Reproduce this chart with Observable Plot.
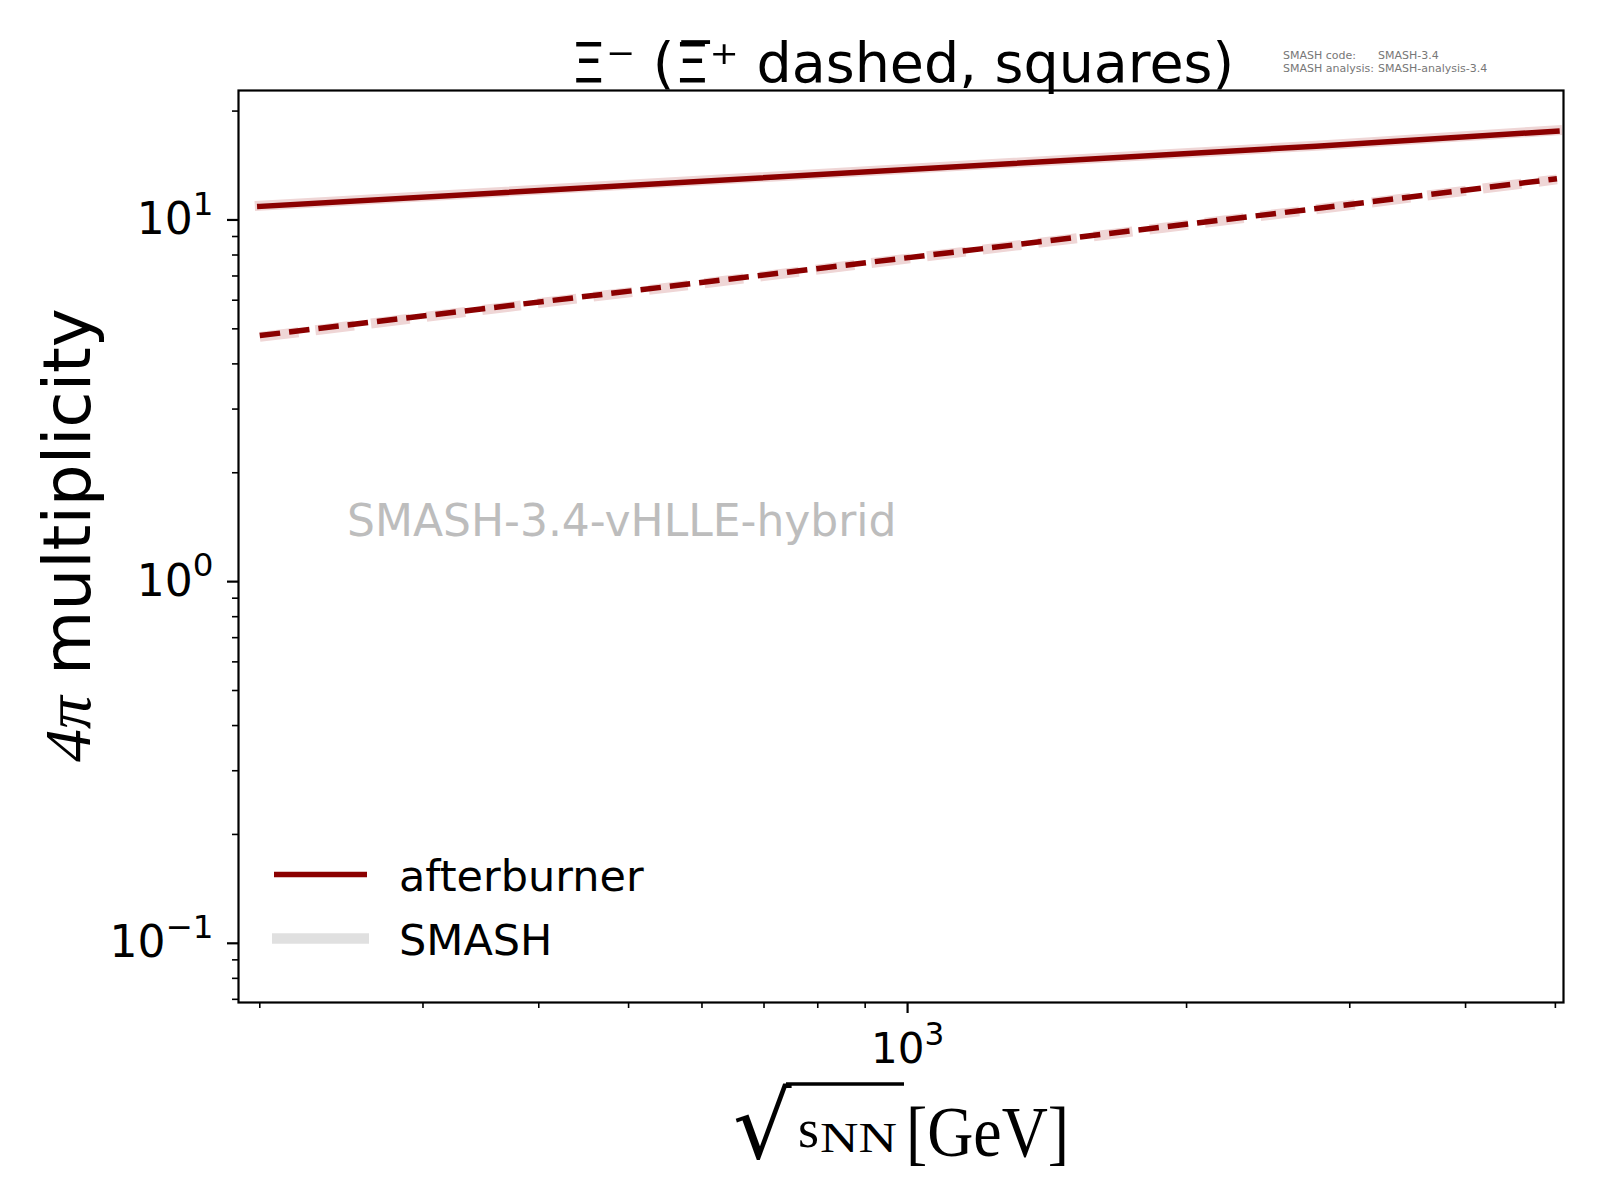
<!DOCTYPE html>
<html>
<head>
<meta charset="utf-8">
<script src="https://cdn.jsdelivr.net/npm/d3@7"></script>
<script src="https://cdn.jsdelivr.net/npm/@observablehq/plot@0.6"></script>
<style>
  html, body { margin: 0; padding: 0; background: #fff; }
  #chart svg { display: block; }
</style>
</head>
<body>
<div id="chart"></div>
<script>
// ---- data ----
const energies = [200, 2760, 5020];                 // sqrt(s_NN) [GeV]
const xiMinusAfterburner = [10.9, 16.0, 17.6];      // solid
const xiPlusAfterburner  = [4.79, 10.75, 13.0];     // dashed (anti-Xi)
const xiMinusSmash = [10.95, 16.05, 17.7];
const xiPlusSmash  = [4.75, 10.7, 12.95];

const xMajorTicks = [1000];
const xMajorLabels = ["10^3"];
const xMinorTicks = [200, 300, 400, 500, 600, 700, 800, 900, 2000, 3000, 4000, 5000];
const yMajorTicks = [0.1, 1, 10];
const yMajorLabels = ["10^−1", "10^0", "10^1"];
const yMinorTicks = [0.07, 0.08, 0.09, 0.2, 0.3, 0.4, 0.5, 0.6, 0.7, 0.8, 0.9,
                     2, 3, 4, 5, 6, 7, 8, 9, 20];

const titleText = "Ξ⁻ (Ξ\u0305⁺ dashed, squares)";
const watermark = "SMASH-3.4-vHLLE-hybrid";
const legendLabels = ["afterburner", "SMASH"];
const versionKeys = ["SMASH code:", "SMASH analysis:"];
const versionVals = ["SMASH-3.4", "SMASH-analysis-3.4"];

const RED = "#8b0000";
const SMASH_BAND = "#efd6d6";
const SMASH_LEGEND = "#e0e0e0";

const toRows = (vals) => energies.map((e, i) => ({e, v: vals[i]}));
const xLab = new Map(xMajorTicks.map((d, i) => [d, xMajorLabels[i]]));
const yLab = new Map(yMajorTicks.map((d, i) => [d, yMajorLabels[i]]));

const W = 1600, H = 1200;
const mL = 238, mR = 37, mT = 90, mB = 198;

const plot = Plot.plot({
  width: W, height: H,
  marginLeft: mL, marginRight: mR, marginTop: mT, marginBottom: mB,
  style: {fontFamily: "DejaVu Sans", color: "black", background: "white"},
  x: {type: "log", domain: [189.7, 5102]},
  y: {type: "log", domain: [0.0686, 22.8]},
  marks: [
    Plot.line(toRows(xiMinusSmash), {x: "e", y: "v", stroke: SMASH_BAND, strokeWidth: 10, strokeLinecap: "square"}),
    Plot.line(toRows(xiPlusSmash), {x: "e", y: "v", stroke: SMASH_BAND, strokeWidth: 10, strokeDasharray: "39,17", strokeLinecap: "butt"}),
    Plot.line(toRows(xiMinusAfterburner), {x: "e", y: "v", stroke: RED, strokeWidth: 5.5, strokeLinecap: "square"}),
    Plot.line(toRows(xiPlusAfterburner), {x: "e", y: "v", stroke: RED, strokeWidth: 5.5, strokeDasharray: "20.5,9", strokeLinecap: "butt"}),
    Plot.axisX(xMinorTicks, {tickSize: 6, strokeWidth: 1.6, tickFormat: () => "", label: null}),
    Plot.axisX(xMajorTicks, {tickSize: 11, strokeWidth: 2.2, tickPadding: 20, fontSize: 42, tickFormat: d => xLab.get(d), label: null}),
    Plot.axisY(yMinorTicks, {tickSize: 6, strokeWidth: 1.6, tickFormat: () => "", label: null}),
    Plot.axisY(yMajorTicks, {tickSize: 11, strokeWidth: 2.2, tickPadding: 14, fontSize: 44, tickFormat: d => yLab.get(d), label: null}),
    Plot.frame({stroke: "black", strokeWidth: 2.2})
  ]
});

document.getElementById("chart").appendChild(plot);

const svg = d3.select(plot);

// turn "10^e" tick labels into real superscripts
svg.selectAll("text").each(function () {
  const t = d3.select(this);
  const s = t.text();
  const m = /^10\^(.+)$/.exec(s);
  if (!m) return;
  t.text("");
  t.append("tspan").text("10");
  t.append("tspan").attr("font-size", "0.74em").attr("dy", "-0.6em").text(m[1]);
});

// ---- annotations (titles, labels, legend) ----
const g = svg.append("g").attr("font-family", "DejaVu Sans").attr("text-anchor", "start");

// title
g.append("text").attr("x", (mL + W - mR) / 2 + 2).attr("y", 82)
  .attr("text-anchor", "middle").attr("font-size", 55.5).attr("fill", "black")
  .text(titleText);

// version info
versionKeys.forEach((k, i) => {
  const y = 59 + i * 12.7;
  g.append("text").attr("x", 1283).attr("y", y).attr("font-size", 11).attr("fill", "#777").text(k);
  g.append("text").attr("x", 1378).attr("y", y).attr("font-size", 11).attr("fill", "#777").text(versionVals[i]);
});

// watermark
g.append("text").attr("x", 347).attr("y", 536).attr("font-size", 44).attr("fill", "#bdbdbd").text(watermark);

// y label
const yl = g.append("text").attr("transform", "translate(90,535) rotate(-90)")
  .attr("text-anchor", "middle").attr("font-size", 66).attr("fill", "black");
yl.append("tspan").attr("font-family", "Liberation Serif").attr("font-style", "italic").text("4π");
yl.append("tspan").text(" multiplicity");

// x label: sqrt(s_NN) [GeV]
const xl = g.append("g").attr("fill", "black").attr("font-family", "Liberation Serif");
xl.append("text").attr("x", 733).attr("y", 1158).attr("font-family", "DejaVu Sans").attr("font-size", 92).text("√");
xl.append("line").attr("x1", 786).attr("x2", 904).attr("y1", 1084).attr("y2", 1084)
  .attr("stroke", "black").attr("stroke-width", 3.5);
xl.append("text").attr("x", 798).attr("y", 1147).attr("font-size", 54).text("s");
xl.append("text").attr("x", 820).attr("y", 1152).attr("font-size", 42)
  .attr("textLength", 77).attr("lengthAdjust", "spacingAndGlyphs").text("NN");
xl.append("text").attr("x", 906).attr("y", 1156).attr("font-size", 72)
  .attr("textLength", 163).attr("lengthAdjust", "spacingAndGlyphs").text("[GeV]");

// legend
const legY = [874.5, 938.5];
g.append("line").attr("x1", 274).attr("x2", 367).attr("y1", legY[0]).attr("y2", legY[0])
  .attr("stroke", RED).attr("stroke-width", 5.5);
g.append("line").attr("x1", 272).attr("x2", 369).attr("y1", legY[1]).attr("y2", legY[1])
  .attr("stroke", SMASH_LEGEND).attr("stroke-width", 10.7);
legendLabels.forEach((t, i) => {
  g.append("text").attr("x", 399).attr("y", legY[i] + 16).attr("font-size", 43).attr("fill", "black").text(t);
});
</script>
</body>
</html>
